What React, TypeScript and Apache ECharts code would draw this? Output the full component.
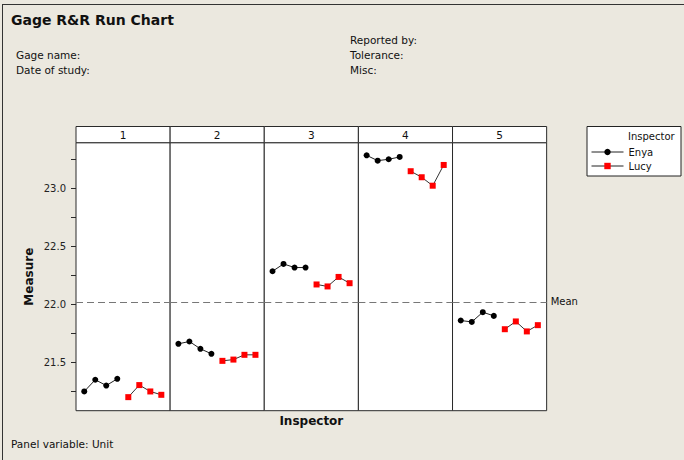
import React, { useEffect, useRef } from "react";
import * as echarts from "echarts";

// ---- data ----
const units = ["1", "2", "3", "4", "5"];
const inspectors = ["Enya", "Lucy"];
const enyaRuns = [1, 2, 3, 4];
const lucyRuns = [5, 6, 7, 8];
const enyaValues = [
  [21.247, 21.348, 21.298, 21.356],
  [21.658, 21.678, 21.615, 21.572],
  [22.284, 22.347, 22.316, 22.316],
  [23.284, 23.238, 23.25, 23.27],
  [21.859, 21.847, 21.931, 21.899],
];
const lucyValues = [
  [21.198, 21.302, 21.247, 21.218],
  [21.511, 21.522, 21.563, 21.563],
  [22.17, 22.153, 22.235, 22.181],
  [23.147, 23.095, 23.022, 23.201],
  [21.784, 21.851, 21.765, 21.819],
];
const meanValue = 22.02;
const yLabelValues = [21.5, 22.0, 22.5, 23.0];
const yTickValues = [21.25, 21.5, 21.75, 22.0, 22.25, 22.5, 22.75, 23.0, 23.25];
const yMin = 21.081;
const yMax = 23.393;

const FONT = "DejaVu Sans";

export default function App() {
  const ref = useRef<HTMLDivElement>(null);
  useEffect(() => {
    if (!ref.current) return;
    const chart = echarts.init(ref.current, null, { renderer: "svg" });
    const left0 = 76;
    const pw = 94.13;
    const top = 142.7;
    const height = 268;

    const grids = units.map((_, i) => ({
      left: left0 + i * pw,
      top,
      width: pw,
      height,
      show: true,
      backgroundColor: "#ffffff",
      borderColor: "#2a2a2a",
      borderWidth: 1,
    }));

    const xAxes = units.map((_, i) => ({
      type: "value",
      gridIndex: i,
      min: 0.25,
      max: 8.8,
      axisLine: { show: false },
      axisTick: { show: false },
      axisLabel: { show: false },
      splitLine: { show: false },
      name: i === 2 ? "Inspector" : "",
      nameLocation: "middle",
      nameGap: 4,
      nameTextStyle: {
        fontFamily: FONT,
        fontWeight: "bold",
        fontSize: 12,
        color: "#111",
        verticalAlign: "top",
      },
    }));

    const yAxes = units.map((_, i) => ({
      type: "value",
      gridIndex: i,
      min: yMin,
      max: yMax,
      axisLine: { show: false },
      splitLine: { show: false },
      axisTick: {
        show: i === 0,
        length: 5,
        lineStyle: { color: "#2a2a2a" },
        customValues: yTickValues,
      },
      axisLabel: {
        show: i === 0,
        margin: 10,
        fontFamily: FONT,
        fontSize: 10,
        color: "#222",
        customValues: yLabelValues,
        formatter: (v: number) => v.toFixed(1),
      },
      name: i === 0 ? "Measure" : "",
      nameLocation: "middle",
      nameGap: 41,
      nameTextStyle: {
        fontFamily: FONT,
        fontWeight: "bold",
        fontSize: 12,
        color: "#111",
      },
    }));

    const series: any[] = [];
    units.forEach((_, i) => {
      series.push({
        type: "line",
        name: inspectors[0],
        xAxisIndex: i,
        yAxisIndex: i,
        data: enyaValues[i].map((v, k) => [enyaRuns[k], v]),
        symbol: "circle",
        symbolSize: 6,
        itemStyle: { color: "#000000" },
        lineStyle: { color: "#222222", width: 1 },
        markLine: {
          silent: true,
          symbol: "none",
          lineStyle: { color: "#777777", type: [7, 4], width: 1 },
          label: {
            show: i === units.length - 1,
            position: "end",
            formatter: "Mean",
            fontFamily: FONT,
            fontSize: 10,
            color: "#111",
            distance: 4,
          },
          data: [{ yAxis: meanValue }],
        },
        z: 3,
      });
      series.push({
        type: "line",
        name: inspectors[1],
        xAxisIndex: i,
        yAxisIndex: i,
        data: lucyValues[i].map((v, k) => [lucyRuns[k], v]),
        symbol: "rect",
        symbolSize: 6,
        itemStyle: { color: "#ff0000" },
        lineStyle: { color: "#333333", width: 1 },
        z: 3,
      });
    });

    const txt = (x: number, y: number, text: string, size = 10.5, bold = false, align = "left") => ({
      type: "text",
      x,
      y,
      silent: true,
      style: {
        text,
        fontFamily: FONT,
        fontSize: size,
        fontWeight: bold ? "bold" : "normal",
        fill: "#111",
        textAlign: align,
        textVerticalAlign: "middle",
        align,
        verticalAlign: "middle",
      },
    });

    const graphics: any[] = [
      { type: "line", silent: true, shape: { x1: 2, y1: 4.5, x2: 684, y2: 4.5 }, style: { stroke: "#333", lineWidth: 1 } },
      { type: "line", silent: true, shape: { x1: 2.5, y1: 4, x2: 2.5, y2: 460 }, style: { stroke: "#333", lineWidth: 1 } },
      txt(11, 20, "Gage R&R Run Chart", 14, true),
      txt(16, 55, "Gage name:"),
      txt(16, 70, "Date of study:"),
      txt(350, 40, "Reported by:"),
      txt(350, 55, "Tolerance:"),
      txt(350, 70, "Misc:"),
      txt(11, 444, "Panel variable: Unit"),
      {
        type: "rect",
        silent: true,
        shape: { x: 587, y: 126.5, width: 94, height: 49.5 },
        style: { fill: "#ffffff", stroke: "#222", lineWidth: 1 },
      },
      txt(628, 136, "Inspector", 10),
    ];
    units.forEach((u, i) => {
      graphics.push({
        type: "rect",
        silent: true,
        shape: { x: left0 + i * pw, y: 126.5, width: pw, height: 16.2 },
        style: { fill: "#ffffff", stroke: "#2a2a2a", lineWidth: 1 },
      });
      graphics.push(txt(left0 + i * pw + pw / 2, 134.5, u, 10.5, false, "center"));
    });

    chart.setOption({
      animation: false,
      backgroundColor: "#ebe8df",
      grid: grids,
      xAxis: xAxes,
      yAxis: yAxes,
      series,
      graphic: { elements: graphics },
      legend: {
        data: inspectors,
        orient: "vertical",
        left: 591,
        top: 147,
        padding: 0,
        itemWidth: 32,
        itemHeight: 8,
        itemGap: 4,
        selectedMode: false,
        lineStyle: { color: "#222222", width: 1 },
        textStyle: { fontFamily: FONT, fontSize: 10, color: "#111" },
        z: 10,
      },
    });
    return () => chart.dispose();
  }, []);
  return (
    <div
      ref={ref}
      style={{ position: "fixed", left: 0, top: 0, width: 684, height: 460 }}
    />
  );
}
